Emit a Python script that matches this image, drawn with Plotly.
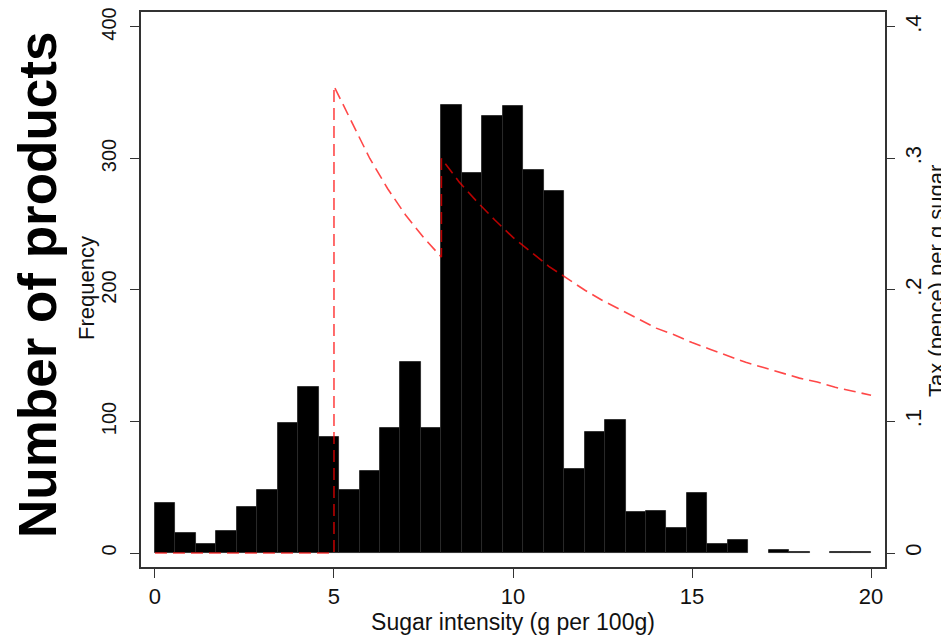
import plotly.graph_objects as go

# Histogram: 35 bins of equal width from 0 to 20 g/100g
bin_start = 0.0
bin_end = 20.0
counts = [38, 15, 7, 17, 35, 48, 99, 126, 88, 48, 62, 95, 145, 95,
          341, 289, 332, 340, 291, 275, 64, 92, 101, 31, 32, 19, 46, 7, 10,
          0, 2, 1, 0, 1, 1]

# Tax (pence) per g sugar
tax_x = [0, 1, 2, 3, 4, 5, 5,
         5.5, 6, 6.5, 7, 7.5, 8, 8,
         8.5, 9, 9.5, 10, 10.5, 11, 11.5, 12, 12.5, 13, 13.5, 14, 14.5,
         15, 15.5, 16, 16.5, 17, 17.5, 18, 18.5, 19, 19.5, 20]
tax_y = [0, 0, 0, 0, 0, 0, 0.355,
         0.327, 0.300, 0.277, 0.257, 0.240, 0.225, 0.300,
         0.282, 0.267, 0.253, 0.240, 0.229, 0.218, 0.209, 0.200, 0.192,
         0.185, 0.178, 0.171, 0.166, 0.160, 0.155, 0.150, 0.145, 0.141,
         0.137, 0.133, 0.130, 0.126, 0.123, 0.120]

x_ticks = [0, 5, 10, 15, 20]
y_ticks = [0, 100, 200, 300, 400]
y2_ticks = [0, 0.1, 0.2, 0.3, 0.4]
y2_labels = ["0", ".1", ".2", ".3", ".4"]

n = len(counts)
width = (bin_end - bin_start) / n
centers = [bin_start + width * (i + 0.5) for i in range(n)]
bar_heights = [c if c > 0 else None for c in counts]

FONT = "Liberation Sans, Arial, sans-serif"
AX = "#333333"

# the page body has an 8px margin; figure is sized to fit the window
OFF = 8
W, H = 949 - OFF, 636 - OFF
ML, MR, MT, MB = 141 - OFF, 949 - 885, 12 - OFF, 636 - 567

Y_RANGE = [-10.65, 411.4]

fig = go.Figure()
fig.add_trace(go.Bar(
    x=centers, y=bar_heights, width=width,
    marker=dict(color="black", line=dict(color="#2a2a2a", width=0.9)),
    showlegend=False, hoverinfo="skip",
))
fig.add_trace(go.Scatter(
    x=tax_x, y=tax_y, yaxis="y2", mode="lines",
    line=dict(color="rgba(255,0,0,0.72)", width=1.6, dash="12px,6px"),
    showlegend=False, hoverinfo="skip",
))

fig.update_layout(
    width=W, height=H,
    margin=dict(l=ML, r=MR, t=MT, b=MB),
    paper_bgcolor="white", plot_bgcolor="white",
    font=dict(family=FONT, color="#111111", size=22),
    bargap=0,
    xaxis=dict(
        range=[-0.39, 20.39], tickvals=x_ticks, ticks="outside", ticklen=9,
        tickwidth=1.4, tickcolor=AX, showline=True, linecolor=AX, linewidth=1.8,
        mirror=True, showgrid=False, zeroline=False, automargin=False,
        ticklabeloverflow="allow",
        tickfont=dict(size=22, family=FONT),
        title=dict(text="Sugar intensity (g per 100g)", font=dict(size=23, family=FONT), standoff=0),
    ),
    yaxis=dict(
        range=Y_RANGE, tickvals=y_ticks, ticks="outside", ticklen=9,
        tickwidth=1.4, tickcolor=AX, showline=True, linecolor=AX, linewidth=1.8,
        mirror=True, showgrid=False, zeroline=False, tickangle=-90, automargin=False,
        ticklabeloverflow="allow", ticklabelstandoff=6,
        tickfont=dict(size=20, family=FONT),
    ),
    yaxis2=dict(
        range=[v / 1000 for v in Y_RANGE], tickvals=y2_ticks, ticktext=y2_labels,
        overlaying="y", side="right", ticks="outside", ticklen=9,
        tickwidth=1.4, tickcolor=AX, showline=False, showgrid=False, automargin=False,
        ticklabeloverflow="allow",
        zeroline=False, tickangle=-90, tickfont=dict(size=22, family=FONT),
    ),
    annotations=[
        dict(text="Frequency", x=86, y=288, xref="paper", yref="paper",
             showarrow=False, textangle=-90, xanchor="center", yanchor="middle",
             font=dict(size=22, family=FONT)),
        dict(text="<b>Number of products</b>", x=37, y=285, xref="paper", yref="paper",
             showarrow=False, textangle=-90, xanchor="center", yanchor="middle",
             font=dict(size=53, family=FONT, color="black")),
        dict(text="Tax (pence) per g sugar", x=936, y=281, xref="paper", yref="paper",
             showarrow=False, textangle=-90, xanchor="center", yanchor="middle",
             font=dict(size=22, family=FONT)),
    ],
)

# convert window-pixel positions of annotations to paper coordinates
pw = W - ML - MR
ph = H - MT - MB
for a in fig.layout.annotations:
    a.x = (a.x - OFF - ML) / pw
    a.y = (H - MB - (a.y - OFF)) / ph

fig.write_html("out.html")
